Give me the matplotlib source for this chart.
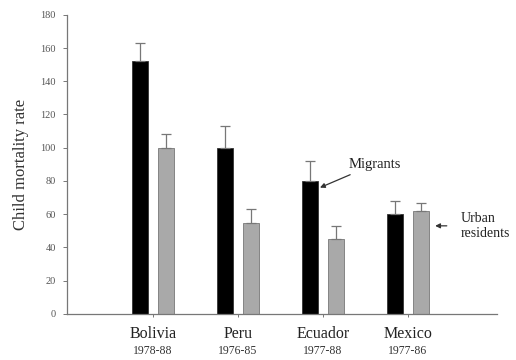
import matplotlib
matplotlib.use("Agg")
import matplotlib.pyplot as plt
import numpy as np

countries = ["Bolivia", "Peru", "Ecuador", "Mexico"]
periods = ["1978-88", "1976-85", "1977-88", "1977-86"]
migrants = [152, 100, 80, 60]
migrants_err = [11, 13, 12, 8]
urban = [100, 55, 45, 62]
urban_err = [8, 8, 8, 5]
yticks = [0, 20, 40, 60, 80, 100, 120, 140, 160, 180]

plt.rcParams['font.family'] = ['Liberation Serif', 'DejaVu Serif']

fig = plt.figure(figsize=(5.16, 3.6), dpi=100)
ax = fig.add_axes([0.130, 0.128, 0.833, 0.831])

x = np.arange(len(countries))
w = 0.19
off = 0.153
ax.bar(x - off, migrants, w, color='black', edgecolor='#333333', linewidth=0.6,
       yerr=[np.zeros(len(x)), migrants_err], capsize=3.5,
       error_kw=dict(ecolor='#777777', elinewidth=0.9, capthick=0.9))
ax.bar(x + off, urban, w, color='#a9a9a9', edgecolor='#777777', linewidth=0.6,
       yerr=[np.zeros(len(x)), urban_err], capsize=3.5,
       error_kw=dict(ecolor='#777777', elinewidth=0.9, capthick=0.9))

ax.set_xlim(-1.01, 4.05)
ax.set_ylim(0, 180)
ax.set_yticks(yticks)
ax.set_yticklabels([str(t) for t in yticks], fontsize=7.5, color='#555555')
ax.set_xticks(x)
ax.set_xticklabels([])
ax.tick_params(axis='y', length=3, width=0.7, color='#777777', pad=5)
ax.tick_params(axis='x', length=2.5, width=0.7, color='#777777')
for s in ['top', 'right']:
    ax.spines[s].set_visible(False)
for s in ['left', 'bottom']:
    ax.spines[s].set_color('#777777')
    ax.spines[s].set_linewidth(0.9)

for i in range(len(countries)):
    ax.text(x[i], -0.068, countries[i], transform=ax.get_xaxis_transform(),
            ha='center', va='center', fontsize=11.5, color='#222222')
    ax.text(x[i], -0.125, periods[i], transform=ax.get_xaxis_transform(),
            ha='center', va='center', fontsize=8.5, color='#333333')

ax.set_ylabel("Child mortality rate", fontsize=12, color='#333333', labelpad=8)

ax.annotate("Migrants", xy=(x[2] - off + 0.12, 76),
            xytext=(x[2] + 0.3, 90), fontsize=10.5, color='#222222',
            ha='left', va='center',
            arrowprops=dict(arrowstyle='-|>', color='#333333', lw=0.9,
                            mutation_scale=7, shrinkA=2, shrinkB=0))
ax.text(x[3] + 0.62, 53, "Urban\nresidents", fontsize=10, color='#222222',
        ha='left', va='center', linespacing=1.2)
ax.annotate("", xy=(x[3] + off + 0.17, 53), xytext=(x[3] + 0.46, 53),
            arrowprops=dict(arrowstyle='-|>', color='#333333', lw=0.9,
                            mutation_scale=7, shrinkA=0, shrinkB=0))

fig.savefig("out.png", dpi=100)
